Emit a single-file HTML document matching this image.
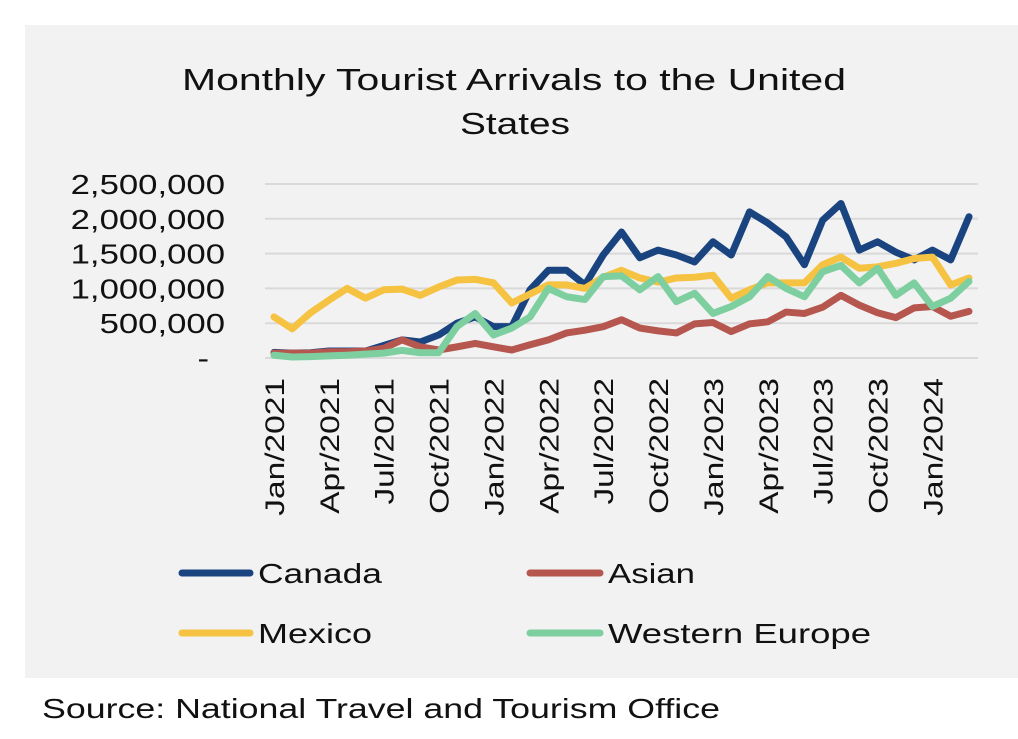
<!DOCTYPE html>
<html><head><meta charset="utf-8"><style>
body{margin:0;background:#fff;width:1018px;height:734px;overflow:hidden;font-family:"Liberation Sans",sans-serif;}
</style></head><body>
<svg width="1018" height="734" xmlns="http://www.w3.org/2000/svg">
<rect x="25" y="25" width="993" height="653" fill="#f2f2f2"/>
<text font-size="31" fill="#111"><tspan x="182" y="90" textLength="664" lengthAdjust="spacingAndGlyphs">Monthly Tourist Arrivals to the United</tspan><tspan x="460" y="134" textLength="110" lengthAdjust="spacingAndGlyphs">States</tspan></text>
<g id="grid"></g><g id="ylab"></g><g id="xlab"></g><g id="lines"></g>
<g font-size="28" fill="#111">
<line x1="182" y1="573" x2="250" y2="573" stroke="#1a4480" stroke-width="7" stroke-linecap="round"/>
<text x="258" y="583" textLength="124" lengthAdjust="spacingAndGlyphs">Canada</text>
<line x1="530" y1="573" x2="600" y2="573" stroke="#b5574f" stroke-width="7" stroke-linecap="round"/>
<text x="608" y="583" textLength="87" lengthAdjust="spacingAndGlyphs">Asian</text>
<line x1="182" y1="633" x2="250" y2="633" stroke="#f5c242" stroke-width="7" stroke-linecap="round"/>
<text x="258" y="643" textLength="114" lengthAdjust="spacingAndGlyphs">Mexico</text>
<line x1="530" y1="633" x2="600" y2="633" stroke="#7ecfa0" stroke-width="7" stroke-linecap="round"/>
<text x="608" y="643" textLength="263" lengthAdjust="spacingAndGlyphs">Western Europe</text>
</g>
<text x="42" y="718" font-size="28" fill="#111" textLength="678" lengthAdjust="spacingAndGlyphs">Source: National Travel and Tourism Office</text>
</svg>
<script>
const yTicks=[0,500000,1000000,1500000,2000000,2500000];
const yTickLabels=["-","500,000","1,000,000","1,500,000","2,000,000","2,500,000"];
const xTickLabels=["Jan/2021","Apr/2021","Jul/2021","Oct/2021","Jan/2022","Apr/2022","Jul/2022","Oct/2022","Jan/2023","Apr/2023","Jul/2023","Oct/2023","Jan/2024"];
const canada=[80000,70000,75000,100000,100000,100000,180000,260000,230000,330000,500000,590000,450000,450000,980000,1260000,1260000,1050000,1480000,1810000,1440000,1550000,1480000,1380000,1670000,1480000,2100000,1940000,1740000,1340000,1980000,2220000,1550000,1670000,1520000,1410000,1550000,1410000,2030000];
const asian=[70000,70000,70000,90000,90000,100000,140000,260000,160000,115000,160000,210000,160000,115000,190000,260000,360000,400000,450000,550000,430000,390000,360000,490000,510000,380000,490000,520000,660000,640000,730000,900000,760000,650000,580000,720000,740000,600000,670000];
const mexico=[590000,420000,650000,830000,1000000,860000,980000,990000,900000,1020000,1120000,1130000,1080000,790000,920000,1050000,1050000,1000000,1160000,1260000,1150000,1090000,1150000,1160000,1190000,860000,980000,1080000,1080000,1080000,1340000,1450000,1290000,1310000,1360000,1430000,1450000,1050000,1150000];
const westernEurope=[40000,15000,20000,30000,40000,55000,70000,110000,75000,75000,450000,640000,330000,430000,590000,1000000,880000,840000,1170000,1180000,980000,1170000,810000,930000,640000,740000,880000,1170000,1000000,880000,1240000,1330000,1080000,1290000,900000,1080000,740000,860000,1100000];
const NS="http://www.w3.org/2000/svg";
const x0=274,x1=969,y0=358,yTop=184;
const n=canada.length;
const xs=i=>x0+(x1-x0)*i/(n-1);
const ys=v=>y0-(y0-yTop)*v/2500000;
const grid=document.getElementById('grid'),ylab=document.getElementById('ylab'),xlab=document.getElementById('xlab'),lines=document.getElementById('lines');
yTicks.forEach((t,k)=>{
 const l=document.createElementNS(NS,'line');
 l.setAttribute('x1',265);l.setAttribute('x2',978);l.setAttribute('y1',ys(t));l.setAttribute('y2',ys(t));
 l.setAttribute('stroke','#d9d9d9');l.setAttribute('stroke-width',2);
 
 
 grid.appendChild(l);
 const tx=document.createElementNS(NS,'text');
 tx.setAttribute('transform',`translate(${k===0?209:225},${ys(t)+10}) scale(1.24,1)`);
 tx.setAttribute('text-anchor','end');
 tx.setAttribute('font-size',28);tx.setAttribute('fill','#111');tx.textContent=yTickLabels[k];
 
 
 ylab.appendChild(tx);
});
xTickLabels.forEach((s,k)=>{
 const x=xs(k*3);
 const tx=document.createElementNS(NS,'text');
 tx.setAttribute('transform',`translate(${x+10},378) rotate(-90) scale(1.24,1)`);
 tx.setAttribute('text-anchor','end');tx.setAttribute('font-size',27);tx.setAttribute('fill','#111');
 tx.textContent=s;
 
 
 xlab.appendChild(tx);
});
[[canada,'#1a4480','canada-line'],[asian,'#b5574f','asian-line'],[mexico,'#f5c242','mexico-line'],[westernEurope,'#7ecfa0','western-europe-line']].forEach(([d,c,nm])=>{
 const p=document.createElementNS(NS,'polyline');
 p.setAttribute('points',d.map((v,i)=>xs(i)+','+ys(v)).join(' '));
 p.setAttribute('fill','none');p.setAttribute('stroke',c);p.setAttribute('stroke-width',7);
 p.setAttribute('stroke-linejoin','round');p.setAttribute('stroke-linecap','round');
 
 
 lines.appendChild(p);
});
</script>
</body></html>
